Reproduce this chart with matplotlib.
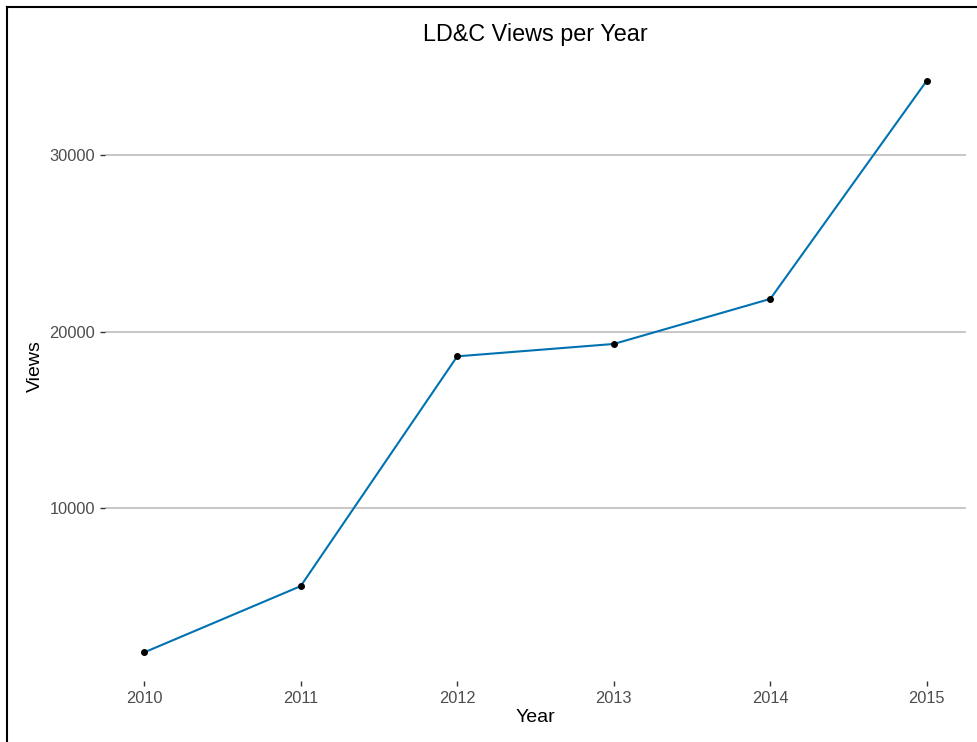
import matplotlib
matplotlib.use("Agg")
import matplotlib.pyplot as plt
from matplotlib.lines import Line2D

years = [2010, 2011, 2012, 2013, 2014, 2015]
views = [1850, 5600, 18600, 19300, 21850, 34200]
yticks = [10000, 20000, 30000]

plt.rcParams['font.family'] = ['Liberation Sans', 'DejaVu Sans']

fig = plt.figure(figsize=(9.77, 7.42), dpi=100)
ax = fig.add_axes([105/977, 1-681/742, (966-105)/977, (681-52)/742])

ax.plot(years, views, color='#0072B2', lw=1.5, zorder=3)
ax.scatter(years, views, color='black', s=16, zorder=4)

span = max(views) - min(views)
ax.set_ylim(min(views) - 0.05*span, max(views) + 0.05*span)
ax.set_xlim(years[0] - 0.25, years[-1] + 0.25)
ax.set_xticks(years)
ax.set_xticklabels([str(y) for y in years])
ax.set_yticks(yticks)
ax.set_yticklabels([str(v) for v in yticks])
ax.grid(axis='y', color='#bebebe', lw=1.2)
ax.set_axisbelow(True)
for s in ax.spines.values():
    s.set_visible(False)
ax.tick_params(axis='both', colors='#333333', labelcolor='#4d4d4d', labelsize=11.8, length=3.5, width=1)
ax.set_xlabel('Year', fontsize=14, color='black', labelpad=2)
ax.set_ylabel('Views', fontsize=14, color='black', labelpad=4)
ax.set_title('LD&C Views per Year', fontsize=16.8, color='black', pad=8)

fig.add_artist(Line2D([7/977, 7/977], [0, 1-7/742], color='black', lw=1.5, transform=fig.transFigure))
fig.add_artist(Line2D([7/977, 1], [1-7/742, 1-7/742], color='black', lw=1.5, transform=fig.transFigure))

fig.savefig('out.png', dpi=100)
